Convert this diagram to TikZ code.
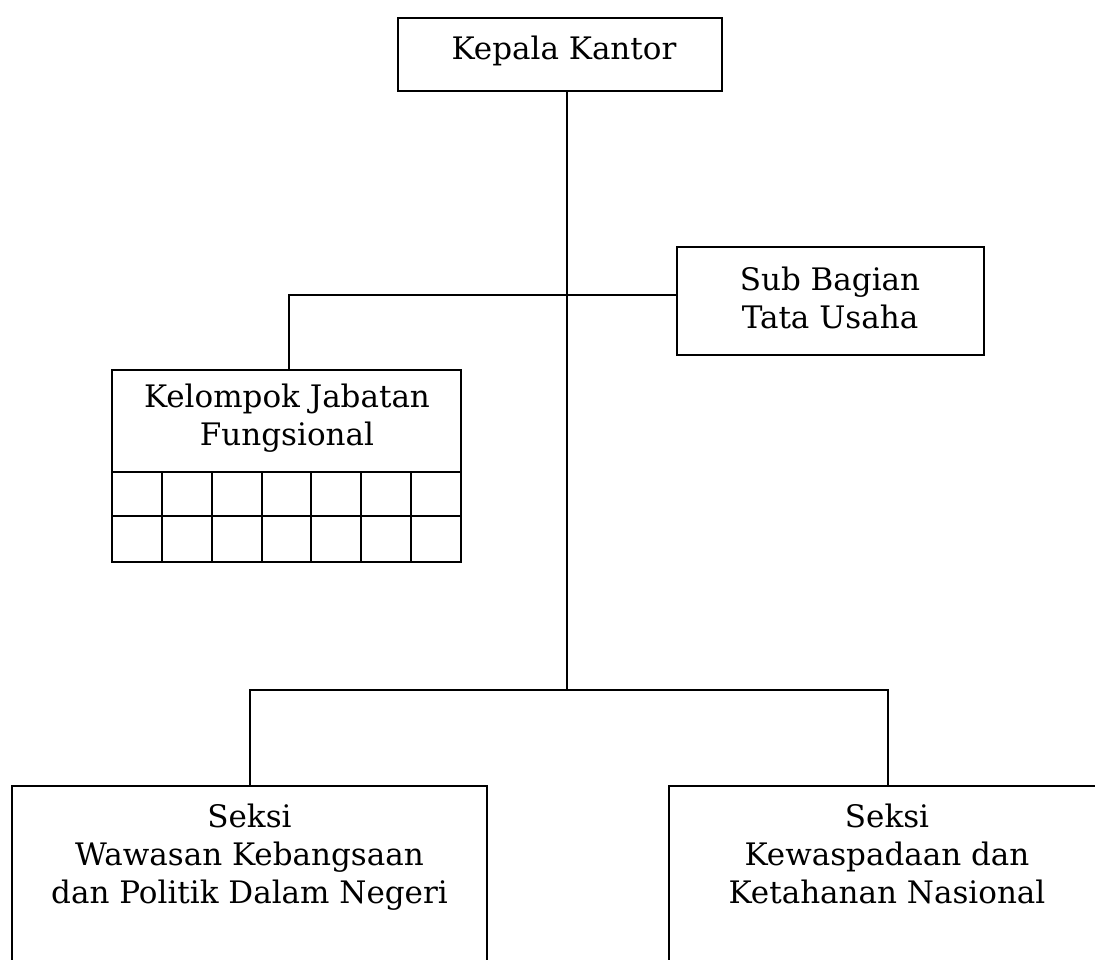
\documentclass[tikz,border=0pt]{standalone}
\usepackage{fontspec}
\setmainfont{DejaVu Serif}
\begin{document}
\begin{tikzpicture}[x=1pt,y=-1pt,line width=2pt,
  box/.style={draw=black,rectangle,inner sep=0pt},
  lbl/.style={font=\fontsize{31}{38}\selectfont,align=center,inner sep=0pt,anchor=base}]
\useasboundingbox (0,0) rectangle (1095,960);
\clip (0,0) rectangle (1095,960);
% boxes
\node[box,minimum width=324pt,minimum height=73pt] (kk) at (560,54.5) {};
\node[box,minimum width=307pt,minimum height=108pt] (sb) at (830.5,301) {};
\node[box,minimum width=349pt,minimum height=192pt] (kf) at (286.5,466) {};
\node[box,minimum width=475pt,minimum height=200pt] (sw) at (249.5,886) {};
\node[box,minimum width=438pt,minimum height=200pt] (sk) at (888,886) {};
% grid of Kelompok Jabatan Fungsional
\draw (kf.west |- 0,472) -- (kf.east |- 0,472);
\draw (kf.west |- 0,516) -- (kf.east |- 0,516);
\foreach \i in {1,...,6} {
  \draw ({112+\i*49.857},472) -- ({112+\i*49.857},562);
}
% texts (anchor base = baseline of the last line)
\node[lbl] (tkk) at (564,60) {Kepala Kantor};
\node[lbl] (tsb) at (830,328) {Sub Bagian\\Tata Usaha};
\node[lbl] (tkf) at (287,445) {Kelompok Jabatan\\Fungsional};
\node[lbl] (tsw) at (249.5,903) {Seksi\\Wawasan Kebangsaan\\dan Politik Dalam Negeri};
\node[lbl] (tsk) at (887,903) {Seksi\\Kewaspadaan dan\\Ketahanan Nasional};
% connectors
\coordinate (j1) at (567,295);
\coordinate (j2) at (567,690);
\draw (kk.south -| j1) -- (j2);
\draw (kf.north -| 289,0) -- (289,295) -- (sb.west |- j1);
\draw (sw.north) -- (sw.north |- j2) -- (sk.north |- j2) -- (sk.north);
\end{tikzpicture}
\end{document}
